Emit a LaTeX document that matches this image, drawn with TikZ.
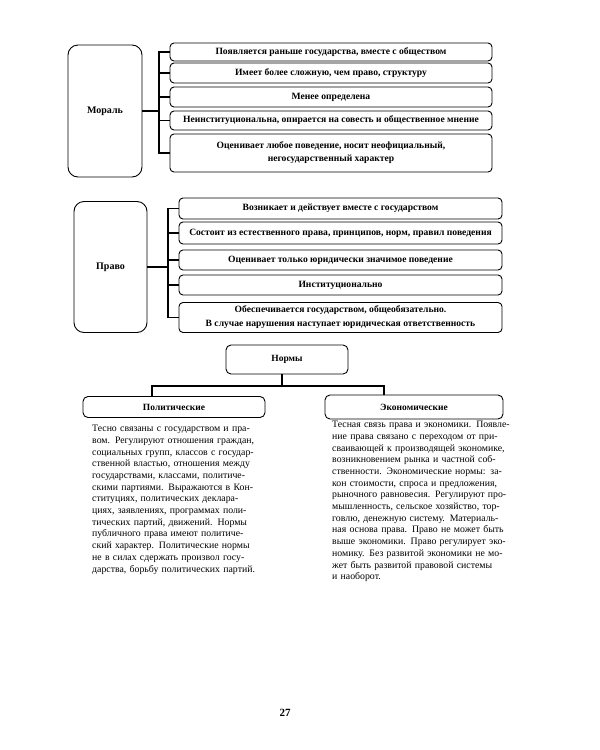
\documentclass[tikz,border=0pt]{standalone}
\usepackage{fontspec}
\setmainfont{Liberation Serif}
\newlength{\jw}
\newcommand{\jl}[1]{\makebox[\jw][s]{#1}}
\begin{document}
\begin{tikzpicture}[x=1pt,y=-1pt,
  item/.style={draw,line width=0.9pt,rounded corners=4pt,inner sep=1pt,align=center,font=\bfseries\fontsize{9.6}{13}\selectfont},
  bigbox/.style={draw,line width=0.9pt,rounded corners=10pt,inner sep=0pt,font=\bfseries\fontsize{10}{12}\selectfont},
  head/.style={draw,line width=0.9pt,rounded corners=5pt,inner sep=0pt,font=\bfseries\fontsize{9.5}{11}\selectfont},
  para/.style={inner sep=0pt,align=left,text width=200pt,font=\fontsize{9.8}{11.7}\selectfont},
  conn/.style={line width=1.1pt}]
\useasboundingbox (0,0) rectangle (600,750);
% Мораль
\node[bigbox,minimum width=74pt,minimum height=132pt] (moral) at (105,111) {Мораль};
\node[item,minimum width=322pt,minimum height=18pt] (m1) at (331,52) {Появляется раньше государства, вместе с обществом};
\node[item,minimum width=322pt,minimum height=20pt] (m2) at (331,73) {Имеет более сложную, чем право, структуру};
\node[item,minimum width=322pt,minimum height=20pt] (m3) at (331,97) {Менее определена};
\node[item,minimum width=322pt,minimum height=19pt] (m4) at (331,120.5) {Неинституциональна, опирается на совесть и общественное мнение};
\node[item,minimum width=322pt,minimum height=38pt] (m5) at (331,153) {Оценивает любое поведение, носит неофициальный,\\негосударственный характер};
\coordinate (mbus) at (159,0);
\draw[conn] (moral.east) -- (moral.east -| mbus);
\draw[conn] (m1.west) -- (m1.west -| mbus) -- (m5.west -| mbus) -- (m5.west);
\foreach \n in {m2,m3,m4} \draw[conn] (\n.west) -- (\n.west -| mbus);
% Право
\node[bigbox,minimum width=73pt,minimum height=131pt] (pravo) at (110.5,267) {Право};
\node[item,minimum width=323pt,minimum height=21pt] (p1) at (340.5,208.5) {Возникает и действует вместе с государством};
\node[item,minimum width=323pt,minimum height=22pt] (p2) at (340.5,233) {Состоит из естественного права, принципов, норм, правил поведения};
\node[item,minimum width=323pt,minimum height=20pt] (p3) at (340.5,260) {Оценивает только юридически значимое поведение};
\node[item,minimum width=323pt,minimum height=20pt] (p4) at (340.5,285) {Институционально};
\node[item,minimum width=323pt,minimum height=30pt,font=\bfseries\fontsize{9.6}{14}\selectfont] (p5) at (340.5,317.5) {Обеспечивается государством, общеобязательно.\\В случае нарушения наступает юридическая ответственность};
\coordinate (pbus) at (168,0);
\draw[conn] (pravo.east) -- (pravo.east -| pbus);
\draw[conn] (p1.west) -- (p1.west -| pbus) -- (p5.west -| pbus) -- (p5.west);
\foreach \n in {p2,p3,p4} \draw[conn] (\n.west) -- (\n.west -| pbus);
% Нормы
\node[head,minimum width=122pt,minimum height=29pt] (normy) at (287,359.5) {Нормы};
\node[head,minimum width=182pt,minimum height=21pt] (pol) at (174,407) {Политические};
\node[head,minimum width=178pt,minimum height=24pt] (eco) at (414,407) {Экономические};
\coordinate (nb) at (282,386);
\coordinate (nl) at (152,386);
\coordinate (nr) at (384,386);
\draw[conn] (normy.south -| nb) -- (nb);
\draw[conn] (nl |- pol.north) -- (nl) -- (nr) -- (nr |- eco.north);
\node[para,anchor=north west] (poltext) at (92,425) {\setlength{\jw}{165pt}%
\jl{Тесно связаны с государством и пра-}\\
\jl{вом. Регулируют отношения граждан,}\\
\jl{социальных групп, классов с государ-}\\
\jl{ственной властью, отношения между}\\
\jl{государствами, классами, политиче-}\\
\jl{скими партиями. Выражаются в Кон-}\\
\jl{ституциях, политических деклара-}\\
\jl{циях, заявлениях, программах поли-}\\
\jl{тических партий, движений. Нормы}\\
\jl{публичного права имеют политиче-}\\
\jl{ский характер. Политические нормы}\\
\jl{не в силах сдержать произвол госу-}\\
\mbox{дарства, борьбу политических партий.}};
\node[para,anchor=north west] (ecotext) at (332,421) {\setlength{\jw}{178pt}%
\jl{Тесная связь права и экономики. Появле-}\\
\jl{ние права связано с переходом от при-}\\
\jl{сваивающей к производящей экономике,}\\
\jl{возникновением рынка и частной соб-}\\
\jl{ственности. Экономические нормы: за-}\\
\jl{кон стоимости, спроса и предложения,}\\
\jl{рыночного равновесия. Регулируют про-}\\
\jl{мышленность, сельское хозяйство, тор-}\\
\jl{говлю, денежную систему. Материаль-}\\
\jl{ная основа права. Право не может быть}\\
\jl{выше экономики. Право регулирует эко-}\\
\jl{номику. Без развитой экономики не мо-}\\
\mbox{жет быть развитой правовой системы}\\
и наоборот.};
\node[font=\bfseries\fontsize{11}{12}\selectfont] (page) at (285,713) {27};
\end{tikzpicture}
\end{document}
